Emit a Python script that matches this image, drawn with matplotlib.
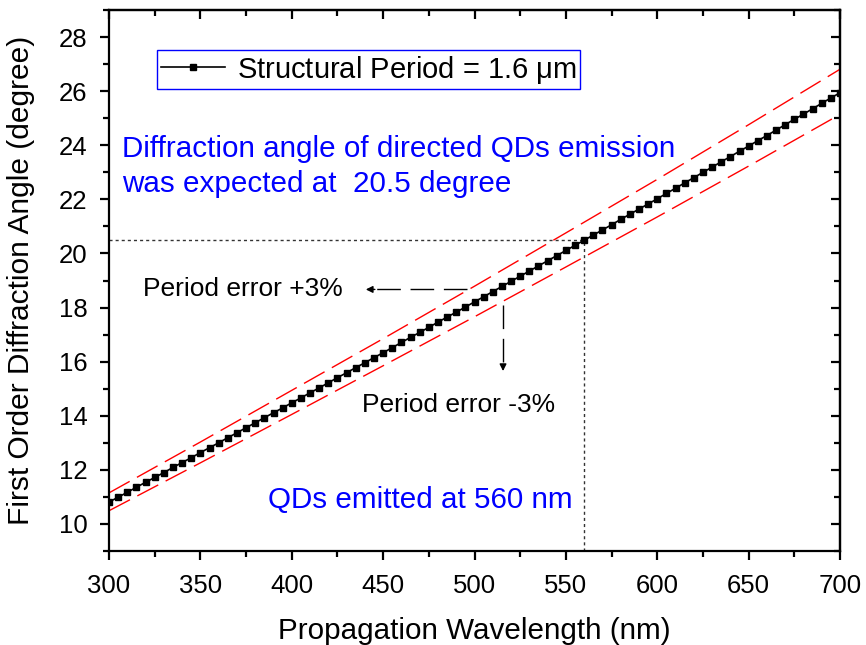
import numpy as np
import matplotlib
matplotlib.use("Agg")
import matplotlib.pyplot as plt
from matplotlib.ticker import MultipleLocator

plt.rcParams["font.family"] = ["Liberation Sans", "DejaVu Sans"]

# propagation wavelength (nm), 5 nm steps
wavelength = np.arange(300, 701, 5)

# first order diffraction angle (degree) for a 1.6 um period
angle = [
    10.81, 10.99, 11.17, 11.36, 11.54, 11.72, 11.90, 12.09, 12.27, 12.45,
    12.64, 12.82, 13.00, 13.19, 13.37, 13.56, 13.74, 13.93, 14.11, 14.29,
    14.48, 14.66, 14.85, 15.03, 15.22, 15.41, 15.59, 15.78, 15.96, 16.15,
    16.33, 16.52, 16.71, 16.90, 17.08, 17.27, 17.46, 17.65, 17.83, 18.02,
    18.21, 18.40, 18.59, 18.78, 18.97, 19.16, 19.35, 19.54, 19.73, 19.92,
    20.11, 20.30, 20.49, 20.68, 20.87, 21.06, 21.26, 21.45, 21.64, 21.83,
    22.02, 22.22, 22.41, 22.61, 22.80, 23.00, 23.19, 23.39, 23.58, 23.78,
    23.97, 24.17, 24.36, 24.56, 24.76, 24.96, 25.15, 25.35, 25.55, 25.75,
    25.94,
]

# +/-3 % period error bounds
err_wavelength = [300, 350, 400, 450, 500, 550, 600, 650, 700]
angle_minus3 = [11.15, 13.03, 14.94, 16.85, 18.79, 20.76, 22.74, 24.76, 26.81]
angle_plus3 = [10.49, 12.26, 14.05, 15.85, 17.66, 19.50, 21.35, 23.23, 25.14]

target_wavelength = 560
target_angle = 20.5

fig = plt.figure(figsize=(8.66, 6.45), dpi=100)
ax = fig.add_axes([0.1259, 0.1457, 0.8441, 0.8388])

# guide lines for the QD emission point
ax.plot([300, target_wavelength], [target_angle, target_angle], color="#333333",
        lw=1, dashes=(2.2, 2.2))
ax.plot([target_wavelength, target_wavelength], [9, target_angle], color="#333333",
        lw=1, dashes=(2.2, 2.2))

ax.plot(err_wavelength, angle_minus3, color="red", lw=1, dashes=(17, 6))
ax.plot(err_wavelength, angle_plus3, color="red", lw=1, dashes=(17, 6))
ax.plot(wavelength, angle, color="black", lw=1.2, marker="s", markersize=4,
        label="Structural Period = 1.6 $\\mathregular{\\mu}$m")

# arrows pointing to the error labels
ax.plot([496, 443], [18.67, 18.67], color="black", lw=1, dashes=(17, 7))
ax.annotate("", xy=(439, 18.67), xytext=(447, 18.67),
            arrowprops=dict(arrowstyle="-|>", color="black", lw=1,
                            mutation_scale=10))
ax.plot([515.6, 515.6], [18.11, 15.75], color="black", lw=1, dashes=(17, 7))
ax.annotate("", xy=(515.6, 15.55), xytext=(515.6, 15.9),
            arrowprops=dict(arrowstyle="-|>", color="black", lw=1,
                            mutation_scale=10))

ax.text(318.6, 18.41, "Period error +3%", fontsize=19, va="baseline")
ax.text(438.4, 14.15, "Period error -3%", fontsize=19, va="baseline")

ax.text(307, 23.56, "Diffraction angle of directed QDs emission", fontsize=21.3,
        color="blue", va="baseline")
ax.text(307, 22.26, "was expected at  20.5 degree", fontsize=21.3,
        color="blue", va="baseline")
ax.text(387, 10.59, "QDs emitted at 560 nm", fontsize=21.3, color="blue",
        va="baseline")

ax.set_xlim(300, 700)
ax.set_ylim(9, 29)
ax.xaxis.set_major_locator(MultipleLocator(50))
ax.xaxis.set_minor_locator(MultipleLocator(25))
ax.yaxis.set_minor_locator(MultipleLocator(1))
ax.set_yticks(np.arange(10, 29, 2))

for side in ax.spines.values():
    side.set_linewidth(1.6)

ax.tick_params(which="both", direction="out", width=1.6, labelsize=18.5,
               top=False, right=False)
ax.tick_params(which="major", length=6.5)
ax.tick_params(which="minor", length=4)
ax.tick_params(axis="x", which="major", pad=10)
ax.tick_params(axis="y", which="major", pad=9)

# inward ticks on the top and right spines
sec_x = ax.secondary_xaxis("top")
sec_x.xaxis.set_major_locator(MultipleLocator(50))
sec_x.xaxis.set_minor_locator(MultipleLocator(25))
sec_x.tick_params(which="both", direction="in", width=1.6, labeltop=False)
sec_x.tick_params(which="major", length=6.5)
sec_x.tick_params(which="minor", length=4)
sec_x.spines["top"].set_linewidth(1.6)
sec_y = ax.secondary_yaxis("right")
sec_y.yaxis.set_major_locator(MultipleLocator(2))
sec_y.yaxis.set_minor_locator(MultipleLocator(1))
sec_y.tick_params(which="both", direction="in", width=1.6, labelright=False)
sec_y.tick_params(which="major", length=6.5)
sec_y.tick_params(which="minor", length=4)
sec_y.spines["right"].set_linewidth(1.6)

ax.set_xlabel("Propagation Wavelength (nm)", fontsize=21.3, labelpad=14)
ax.set_ylabel("First Order Diffraction Angle (degree)", fontsize=21.5, labelpad=17)

leg = ax.legend(loc="upper left", bbox_to_anchor=(0.066, 0.926), fontsize=21,
                numpoints=1, handlelength=2.2, handletextpad=0.4,
                borderpad=0.12, borderaxespad=0, fancybox=False,
                framealpha=1)
leg.get_frame().set_edgecolor("blue")
leg.get_frame().set_linewidth(1)

fig.savefig("out.png", dpi=100)
